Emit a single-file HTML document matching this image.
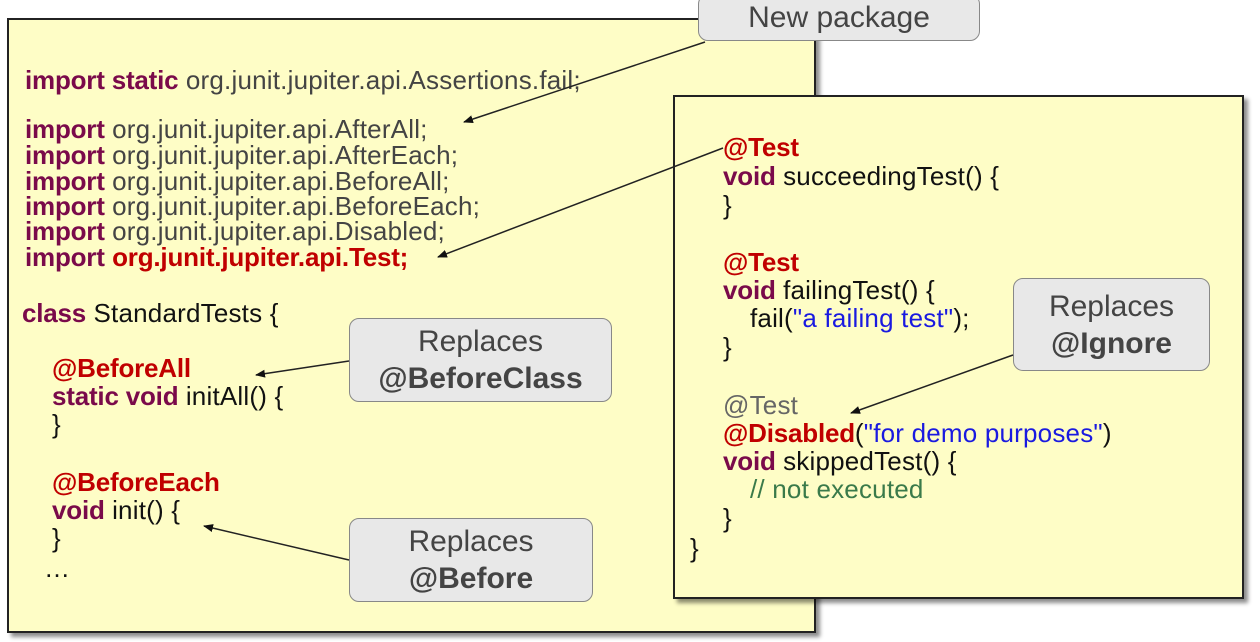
<!DOCTYPE html>
<html><head><style>
body{margin:0;width:1260px;height:642px;background:#fff;position:relative;overflow:hidden;font-family:"Liberation Sans",sans-serif;}
.box{position:absolute;background:#fefdc6;border:2px solid #222;box-shadow:4px 4px 4px rgba(0,0,0,.45);}
.t{position:absolute;font-size:26px;line-height:26px;white-space:pre;color:#111;letter-spacing:0.2px}
.k{color:#7a0a4a;font-weight:bold;letter-spacing:-0.2px}
.a{color:#c00000;font-weight:bold;letter-spacing:-0.2px}
.g{color:#444}
.s{color:#1a1ae0}
.c{color:#3a7a4a}
.call{position:absolute;background:#e8e8e8;border:1.5px solid #888;border-radius:10px;text-align:center;font-size:30px;line-height:37px;color:#444;box-sizing:border-box;}
.call b{color:#444}
</style></head><body>
<div class="box" style="left:7px;top:18px;width:805px;height:611px"></div>
<div class="box" style="left:673px;top:95px;width:567px;height:500px"></div>

<div class="t" style="left:25px;top:67px"><span class="k">import static</span> <span class="g">org.junit.jupiter.api.Assertions.fail;</span></div>
<div class="t" style="left:25px;top:116px"><span class="k">import</span> <span class="g">org.junit.jupiter.api.AfterAll;</span></div>
<div class="t" style="left:25px;top:142px"><span class="k">import</span> <span class="g">org.junit.jupiter.api.AfterEach;</span></div>
<div class="t" style="left:25px;top:168px"><span class="k">import</span> <span class="g">org.junit.jupiter.api.BeforeAll;</span></div>
<div class="t" style="left:25px;top:193px"><span class="k">import</span> <span class="g">org.junit.jupiter.api.BeforeEach;</span></div>
<div class="t" style="left:25px;top:218px"><span class="k">import</span> <span class="g">org.junit.jupiter.api.Disabled;</span></div>
<div class="t" style="left:25px;top:244px"><span class="k">import</span> <span class="a">org.junit.jupiter.api.Test;</span></div>
<div class="t" style="left:22px;top:300px"><span class="k">class</span> StandardTests {</div>
<div class="t" style="left:52px;top:355px"><span class="a">@BeforeAll</span></div>
<div class="t" style="left:52px;top:383px"><span class="k">static void</span> initAll() {</div>
<div class="t" style="left:52px;top:411px">}</div>
<div class="t" style="left:52px;top:469px"><span class="a">@BeforeEach</span></div>
<div class="t" style="left:52px;top:497px"><span class="k">void</span> init() {</div>
<div class="t" style="left:52px;top:525px">}</div>
<div class="t" style="left:44px;top:555px">…</div>

<div class="t" style="left:723px;top:134px"><span class="a">@Test</span></div>
<div class="t" style="left:723px;top:163px"><span class="k">void</span> succeedingTest() {</div>
<div class="t" style="left:723px;top:192px">}</div>
<div class="t" style="left:723px;top:249px"><span class="a">@Test</span></div>
<div class="t" style="left:723px;top:277px"><span class="k">void</span> failingTest() {</div>
<div class="t" style="left:750px;top:305px">fail(<span class="s">"a failing test"</span>);</div>
<div class="t" style="left:723px;top:334px">}</div>
<div class="t" style="left:723px;top:392px"><span style="color:#666">@Test</span></div>
<div class="t" style="left:723px;top:420px"><span class="a">@Disabled</span>(<span class="s">"for demo purposes"</span>)</div>
<div class="t" style="left:723px;top:448px"><span class="k">void</span> skippedTest() {</div>
<div class="t" style="left:750px;top:476px"><span class="c">// not executed</span></div>
<div class="t" style="left:723px;top:505px">}</div>
<div class="t" style="left:690px;top:535px">}</div>

<div class="call" style="left:698px;top:-6px;width:282px;height:47px;line-height:44px;padding-top:1px">New package</div>
<div class="call" style="left:349px;top:318px;width:263px;height:84px;padding-top:4px">Replaces<br><b>@BeforeClass</b></div>
<div class="call" style="left:349px;top:518px;width:244px;height:84px;padding-top:4px">Replaces<br><b>@Before</b></div>
<div class="call" style="left:1013px;top:278px;width:197px;height:93px;padding-top:9px">Replaces<br><b>@Ignore</b></div>

<svg width="1260" height="642" style="position:absolute;left:0;top:0">
<defs><marker id="ar" markerWidth="10" markerHeight="8" refX="9" refY="4" orient="auto" markerUnits="userSpaceOnUse"><path d="M0,0 L10,4 L0,8 z" fill="#111"/></marker></defs>
<g stroke="#222" stroke-width="1.5" fill="none">
<line x1="705" y1="42" x2="464" y2="122" marker-end="url(#ar)"/>
<line x1="723" y1="148" x2="438" y2="257" marker-end="url(#ar)"/>
<line x1="349" y1="361" x2="256" y2="375" marker-end="url(#ar)"/>
<line x1="349" y1="560" x2="204" y2="526" marker-end="url(#ar)"/>
<line x1="1013" y1="355" x2="851" y2="413" marker-end="url(#ar)"/>
</g></svg>
</body></html>
